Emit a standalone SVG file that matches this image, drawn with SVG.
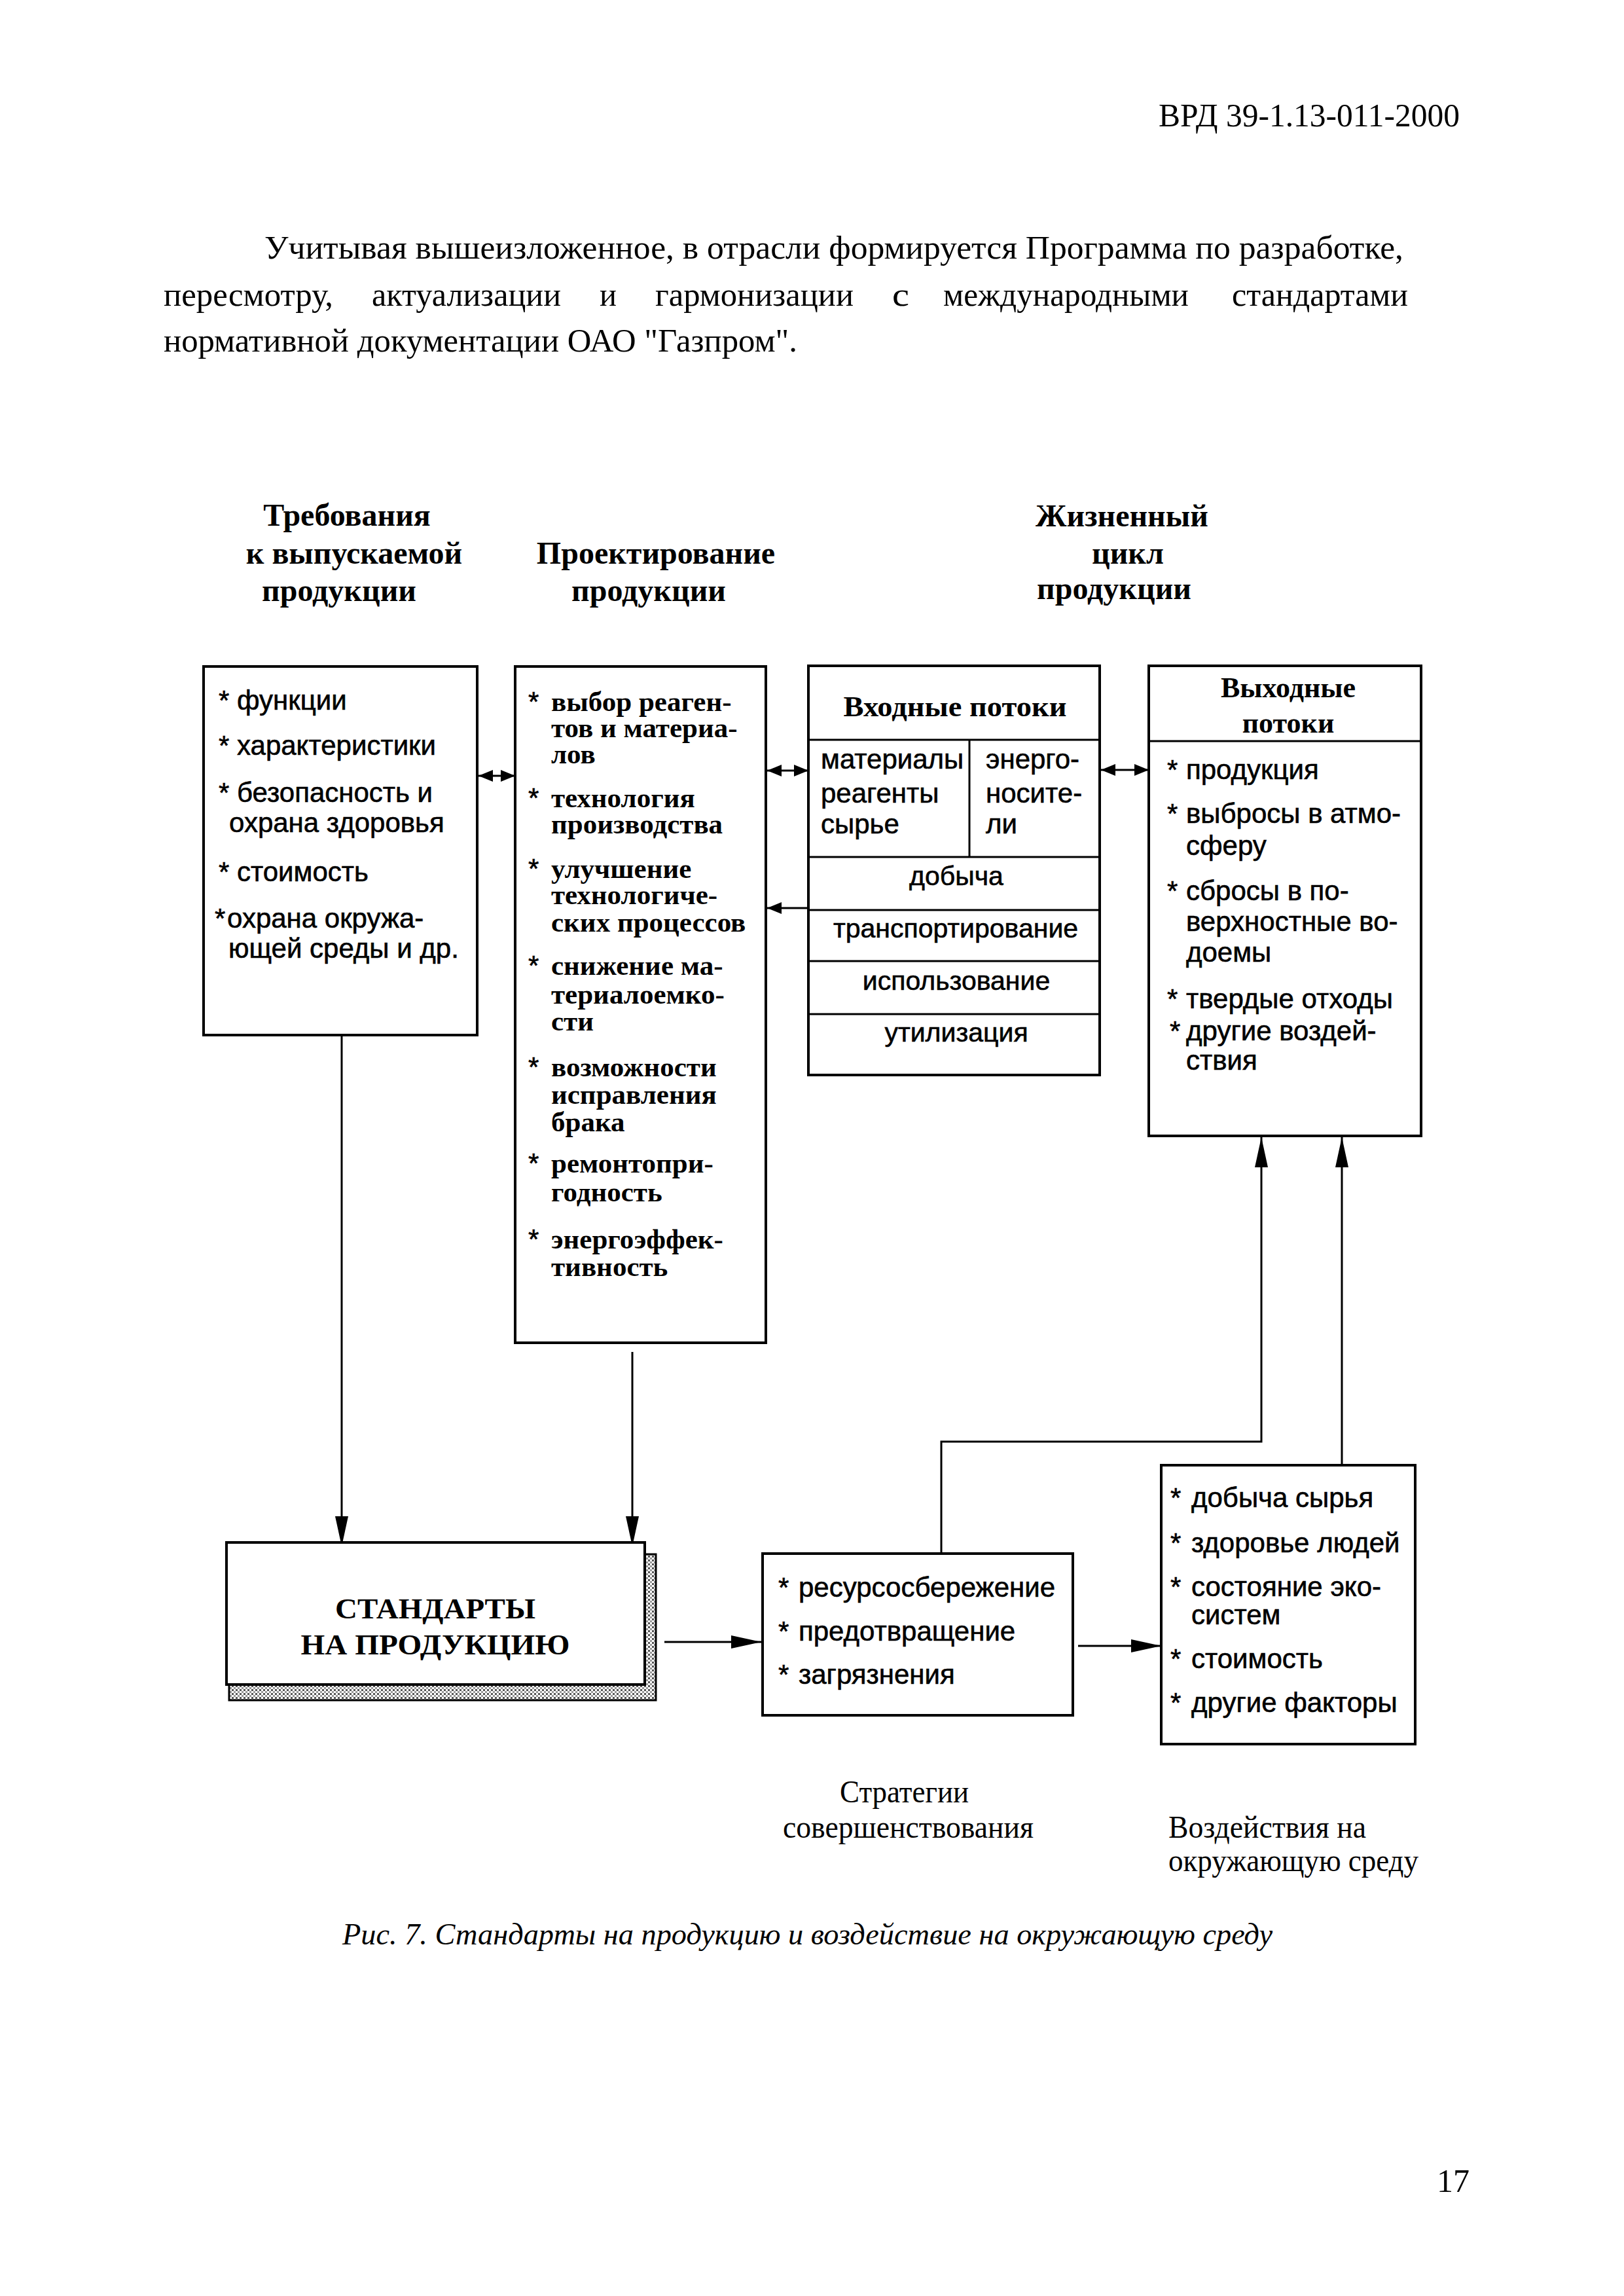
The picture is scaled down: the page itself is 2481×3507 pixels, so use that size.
<svg xmlns="http://www.w3.org/2000/svg" width="2481" height="3507" viewBox="0 0 2481 3507">
<style>
.box{fill:#fff;stroke:#000;stroke-width:4}
.sep{stroke:#000;stroke-width:3;fill:none}
.ln{stroke:#000;stroke-width:3;fill:none}
.s{font-family:"Liberation Sans",Arial,sans-serif;font-size:42px;fill:#000;stroke:#000;stroke-width:0.6}
.sc{font-family:"Liberation Sans",Arial,sans-serif;font-size:41px;fill:#000;stroke:#000;stroke-width:0.6;text-anchor:middle}
.b2{font-family:"Liberation Serif","Times New Roman",serif;font-weight:bold;font-size:43px;fill:#000}
.t{font-family:"Liberation Serif","Times New Roman",serif;font-weight:bold;font-size:48px;text-anchor:middle;fill:#000}
.h{font-family:"Liberation Serif","Times New Roman",serif;font-weight:bold;font-size:44px;text-anchor:middle;fill:#000}
.p{font-family:"Liberation Serif","Times New Roman",serif;font-size:50px;fill:#000}
.c{font-family:"Liberation Serif","Times New Roman",serif;font-size:48px;fill:#000}
.cap{font-family:"Liberation Serif","Times New Roman",serif;font-size:46px;font-style:italic;fill:#000}
</style>
<defs>
<marker id="ah" markerUnits="userSpaceOnUse" viewBox="0 0 46 20" markerWidth="46" markerHeight="20" refX="46" refY="10" orient="auto"><path d="M0,0 L46,10 L0,20 Z" fill="#000"/></marker>
<marker id="sh" markerUnits="userSpaceOnUse" viewBox="0 0 22 18" markerWidth="22" markerHeight="18" refX="22" refY="9" orient="auto-start-reverse"><path d="M0,0 L22,9 L0,18 Z" fill="#000"/></marker>
<pattern id="hatch" width="6" height="6" patternUnits="userSpaceOnUse"><rect width="6" height="6" fill="#fff"/><rect x="0" y="0" width="3" height="3" fill="#555"/><rect x="3" y="3" width="3" height="3" fill="#999"/></pattern>
</defs>
<rect width="2481" height="3507" fill="#fff"/>

<g id="page-text">
<text class="p" x="1770" y="193" font-size="46" textLength="460" lengthAdjust="spacingAndGlyphs">ВРД 39-1.13-011-2000</text>
<text class="p" x="404" y="395" textLength="1740" lengthAdjust="spacingAndGlyphs">Учитывая вышеизложенное, в отрасли формируется Программа по разработке,</text>
<text class="p" y="467"><tspan x="250" textLength="259" lengthAdjust="spacingAndGlyphs">пересмотру,</tspan><tspan x="568" textLength="289" lengthAdjust="spacingAndGlyphs">актуализации</tspan><tspan x="916" textLength="26" lengthAdjust="spacingAndGlyphs">и</tspan><tspan x="1001" textLength="303" lengthAdjust="spacingAndGlyphs">гармонизации</tspan><tspan x="1363" textLength="26" lengthAdjust="spacingAndGlyphs">с</tspan><tspan x="1441" textLength="375" lengthAdjust="spacingAndGlyphs">международными</tspan><tspan x="1882" textLength="269" lengthAdjust="spacingAndGlyphs">стандартами</tspan></text>
<text class="p" x="250" y="537" textLength="968" lengthAdjust="spacingAndGlyphs">нормативной документации ОАО "Газпром".</text>
<text class="cap" x="523" y="2970" textLength="1421" lengthAdjust="spacingAndGlyphs">Рис. 7. Стандарты на продукцию и воздействие на окружающую среду</text>
<text class="p" x="2195" y="3348" font-size="42">17</text>
</g>

<g id="titles">
<text class="t" x="530" y="803">Требования</text>
<text class="t" x="541" y="861">к выпускаемой</text>
<text class="t" x="518" y="918">продукции</text>
<text class="t" x="1002" y="861">Проектирование</text>
<text class="t" x="991" y="918">продукции</text>
<text class="t" x="1714" y="804">Жизненный</text>
<text class="t" x="1723" y="861">цикл</text>
<text class="t" x="1702" y="915">продукции</text>
</g>

<g id="connectors">
<line class="ln" x1="522" y1="1581" x2="522" y2="2362" marker-end="url(#ah)"/>
<line class="ln" x1="966" y1="2065" x2="966" y2="2362" marker-end="url(#ah)"/>
<line class="ln" x1="1015" y1="2508" x2="1163" y2="2508" marker-end="url(#ah)"/>
<line class="ln" x1="1647" y1="2514" x2="1774" y2="2514" marker-end="url(#ah)"/>
<path class="ln" d="M1438,2373 V2202 H1927 V1737" marker-end="url(#ah)"/>
<line class="ln" x1="2050" y1="2238" x2="2050" y2="1737" marker-end="url(#ah)"/>
<line class="ln" x1="787" y1="1185" x2="731" y2="1185" marker-start="url(#sh)" marker-end="url(#sh)"/>
<line class="ln" x1="1235" y1="1177" x2="1172" y2="1177" marker-start="url(#sh)" marker-end="url(#sh)"/>
<line class="ln" x1="1235" y1="1387" x2="1172" y2="1387" marker-end="url(#sh)"/>
<line class="ln" x1="1755" y1="1176" x2="1682" y2="1176" marker-start="url(#sh)" marker-end="url(#sh)"/>
</g>

<g id="box-requirements">
<rect class="box" x="311" y="1018" width="418" height="563"/>
<text class="s" x="334" y="1084">*</text><text class="s" x="362" y="1084">функции</text>
<text class="s" x="334" y="1153">*</text><text class="s" x="362" y="1153">характеристики</text>
<text class="s" x="334" y="1225">*</text><text class="s" x="362" y="1225">безопасность и</text>
<text class="s" x="350" y="1271">охрана здоровья</text>
<text class="s" x="334" y="1346">*</text><text class="s" x="362" y="1346">стоимость</text>
<text class="s" x="328" y="1417">*</text><text class="s" x="347" y="1417">охрана окружа-</text>
<text class="s" x="349" y="1463">ющей среды и др.</text>
</g>

<g id="box-design">
<rect class="box" x="787" y="1018" width="383" height="1033"/>
<text class="s" x="807" y="1086">*</text><text class="b2" x="842" y="1086">выбор реаген-</text>
<text class="b2" x="842" y="1126">тов и материа-</text>
<text class="b2" x="842" y="1166">лов</text>
<text class="s" x="807" y="1233">*</text><text class="b2" x="842" y="1233">технология</text>
<text class="b2" x="842" y="1273">производства</text>
<text class="s" x="807" y="1341">*</text><text class="b2" x="842" y="1341">улучшение</text>
<text class="b2" x="842" y="1381">технологиче-</text>
<text class="b2" x="842" y="1423">ских процессов</text>
<text class="s" x="807" y="1489">*</text><text class="b2" x="842" y="1489">снижение ма-</text>
<text class="b2" x="842" y="1533">териалоемко-</text>
<text class="b2" x="842" y="1574">сти</text>
<text class="s" x="807" y="1644">*</text><text class="b2" x="842" y="1644">возможности</text>
<text class="b2" x="842" y="1686">исправления</text>
<text class="b2" x="842" y="1728">брака</text>
<text class="s" x="807" y="1791">*</text><text class="b2" x="842" y="1791">ремонтопри-</text>
<text class="b2" x="842" y="1835">годность</text>
<text class="s" x="807" y="1907">*</text><text class="b2" x="842" y="1907">энергоэффек-</text>
<text class="b2" x="842" y="1949">тивность</text>
</g>

<g id="box-input">
<rect class="box" x="1235" y="1017" width="445" height="625"/>
<text class="h" x="1459" y="1094" textLength="341" lengthAdjust="spacingAndGlyphs">Входные потоки</text>
<line class="sep" x1="1235" y1="1130" x2="1680" y2="1130"/>
<line class="sep" x1="1481" y1="1130" x2="1481" y2="1309"/>
<text class="s" x="1254" y="1174" font-size="41">материалы</text>
<text class="s" x="1254" y="1226" font-size="41">реагенты</text>
<text class="s" x="1254" y="1273" font-size="41">сырье</text>
<text class="s" x="1506" y="1174" font-size="41">энерго-</text>
<text class="s" x="1506" y="1226" font-size="41">носите-</text>
<text class="s" x="1506" y="1273" font-size="41">ли</text>
<line class="sep" x1="1235" y1="1309" x2="1680" y2="1309"/>
<text class="sc" x="1461" y="1352">добыча</text>
<line class="sep" x1="1235" y1="1390" x2="1680" y2="1390"/>
<text class="sc" x="1460" y="1432">транспортирование</text>
<line class="sep" x1="1235" y1="1468" x2="1680" y2="1468"/>
<text class="sc" x="1461" y="1512">использование</text>
<line class="sep" x1="1235" y1="1549" x2="1680" y2="1549"/>
<text class="sc" x="1461" y="1591">утилизация</text>
</g>

<g id="box-output">
<rect class="box" x="1755" y="1017" width="416" height="718"/>
<text class="h" x="1968" y="1065">Выходные</text>
<text class="h" x="1968" y="1119">потоки</text>
<line class="sep" x1="1755" y1="1132" x2="2171" y2="1132"/>
<text class="s" x="1783" y="1190">*</text><text class="s" x="1812" y="1190">продукция</text>
<text class="s" x="1783" y="1257">*</text><text class="s" x="1812" y="1257">выбросы в атмо-</text>
<text class="s" x="1812" y="1306">сферу</text>
<text class="s" x="1783" y="1375">*</text><text class="s" x="1812" y="1375">сбросы в по-</text>
<text class="s" x="1812" y="1422">верхностные во-</text>
<text class="s" x="1812" y="1469">доемы</text>
<text class="s" x="1783" y="1540">*</text><text class="s" x="1812" y="1540">твердые отходы</text>
<text class="s" x="1787" y="1589">*</text><text class="s" x="1812" y="1589">другие воздей-</text>
<text class="s" x="1812" y="1634">ствия</text>
</g>

<g id="box-standards">
<rect x="350" y="2374" width="652" height="223" fill="url(#hatch)" stroke="#000" stroke-width="3"/>
<rect class="box" x="346" y="2356" width="639" height="217"/>
<text class="h" x="665" y="2472" font-size="46" textLength="306" lengthAdjust="spacingAndGlyphs">СТАНДАРТЫ</text>
<text class="h" x="665" y="2527" font-size="46" textLength="411" lengthAdjust="spacingAndGlyphs">НА ПРОДУКЦИЮ</text>
</g>

<g id="box-strategies">
<rect class="box" x="1165" y="2373" width="474" height="247"/>
<text class="s" x="1189" y="2439">*</text><text class="s" x="1220" y="2439">ресурсосбережение</text>
<text class="s" x="1189" y="2506">*</text><text class="s" x="1220" y="2506">предотвращение</text>
<text class="s" x="1189" y="2572">*</text><text class="s" x="1220" y="2572">загрязнения</text>
</g>

<g id="box-impacts">
<rect class="box" x="1774" y="2238" width="388" height="426"/>
<text class="s" x="1788" y="2302">*</text><text class="s" x="1820" y="2302">добыча сырья</text>
<text class="s" x="1788" y="2371">*</text><text class="s" x="1820" y="2371">здоровье людей</text>
<text class="s" x="1788" y="2438">*</text><text class="s" x="1820" y="2438">состояние эко-</text>
<text class="s" x="1820" y="2481">систем</text>
<text class="s" x="1788" y="2548">*</text><text class="s" x="1820" y="2548">стоимость</text>
<text class="s" x="1788" y="2615">*</text><text class="s" x="1820" y="2615">другие факторы</text>
</g>

<g id="labels">
<text class="c" x="1283" y="2753" textLength="197" lengthAdjust="spacingAndGlyphs">Стратегии</text>
<text class="c" x="1196" y="2807" textLength="383" lengthAdjust="spacingAndGlyphs">совершенствования</text>
<text class="c" x="1785" y="2807" textLength="302" lengthAdjust="spacingAndGlyphs">Воздействия на</text>
<text class="c" x="1785" y="2858" textLength="382" lengthAdjust="spacingAndGlyphs">окружающую среду</text>
</g>
</svg>
